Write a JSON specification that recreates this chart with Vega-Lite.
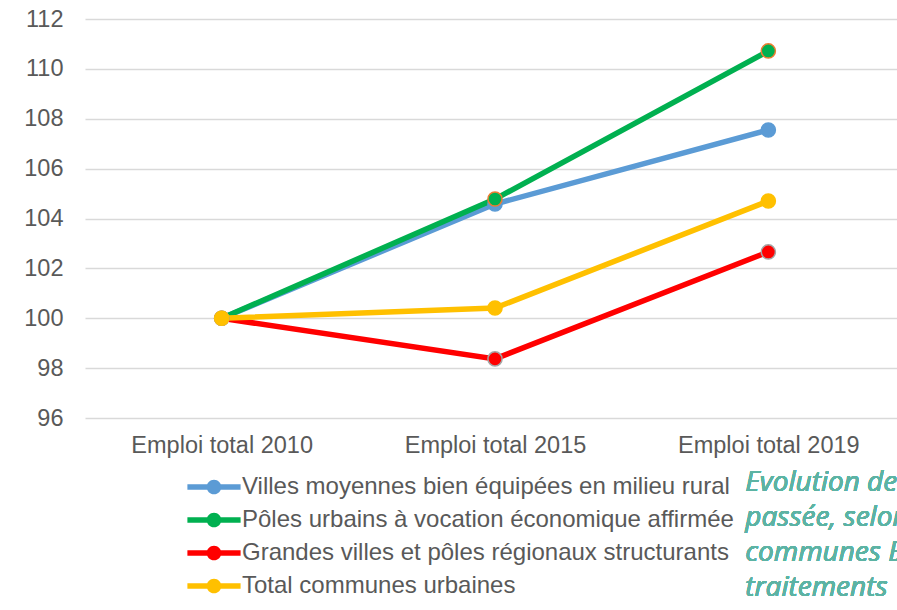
{
  "$schema": "https://vega.github.io/schema/vega-lite/v6.json",
  "width": 820,
  "height": 399,
  "autosize": "none",
  "padding": {"left": 85, "top": 19, "right": 0, "bottom": 192},
  "background": "white",
  "config": {
    "view": {"stroke": null},
    "axis": {"labelFont": "Liberation Sans", "labelFontSize": 23.5, "labelColor": "#595959", "title": null, "ticks": false, "domain": false, "labelLimit": 400}
  },
  "data": {"values": [
    {"series": "Villes moyennes bien équipées en milieu rural", "year": "Emploi total 2010", "value": 100},
    {"series": "Villes moyennes bien équipées en milieu rural", "year": "Emploi total 2015", "value": 104.58},
    {"series": "Villes moyennes bien équipées en milieu rural", "year": "Emploi total 2019", "value": 107.55},
    {"series": "Pôles urbains à vocation économique affirmée", "year": "Emploi total 2010", "value": 100},
    {"series": "Pôles urbains à vocation économique affirmée", "year": "Emploi total 2015", "value": 104.78},
    {"series": "Pôles urbains à vocation économique affirmée", "year": "Emploi total 2019", "value": 110.72},
    {"series": "Grandes villes et pôles régionaux structurants", "year": "Emploi total 2010", "value": 100},
    {"series": "Grandes villes et pôles régionaux structurants", "year": "Emploi total 2015", "value": 98.37},
    {"series": "Grandes villes et pôles régionaux structurants", "year": "Emploi total 2019", "value": 102.66},
    {"series": "Total communes urbaines", "year": "Emploi total 2010", "value": 100},
    {"series": "Total communes urbaines", "year": "Emploi total 2015", "value": 100.41},
    {"series": "Total communes urbaines", "year": "Emploi total 2019", "value": 104.7}
  ]},
  "encoding": {
    "x": {"field": "year", "type": "nominal", "sort": null,
      "scale": {"type": "point", "padding": 0.5},
      "axis": {"labelAngle": 0, "labelPadding": 15, "grid": false, "labelLimit": 400}},
    "y": {"field": "value", "type": "quantitative",
      "scale": {"domain": [96, 112], "nice": false, "zero": false},
      "axis": {"values": [96, 98, 100, 102, 104, 106, 108, 110, 112], "labelPadding": 22, "grid": true, "gridColor": "#D9D9D9", "gridWidth": 1.3}}
  },
  "layer": [
    {
      "mark": {"type": "line", "strokeWidth": 5.5},
      "encoding": {
        "color": {"field": "series", "type": "nominal",
          "scale": {
            "domain": ["Villes moyennes bien équipées en milieu rural", "Pôles urbains à vocation économique affirmée", "Grandes villes et pôles régionaux structurants", "Total communes urbaines"],
            "range": ["#5B9BD5", "#00B050", "#FF0000", "#FFC000"]},
          "legend": {
            "orient": "none", "legendX": 117, "legendY": 456, "padding": 0,
            "title": null,
            "symbolType": "M-3.8,-0.38L-0.9,-0.38L-0.9,0.38L-3.8,0.38Z M0.9,-0.38L3.8,-0.38L3.8,0.38L0.9,0.38Z M1.05,0A1.05,1.05,0,1,1,-1.05,0A1.05,1.05,0,1,1,1.05,0Z",
            "symbolSize": 196, "symbolStrokeWidth": 0,
            "labelFont": "Liberation Sans", "labelFontSize": 24, "labelColor": "#595959",
            "labelOffset": 16, "rowPadding": 9, "labelLimit": 700,
            "encode": {"symbols": {"update": {"fill": {"scale": "color", "field": "value"}, "opacity": {"value": 1}}}}
          }}
      }
    },
    {
      "mark": {"type": "point", "filled": true, "size": 200, "opacity": 1, "strokeWidth": 1.5},
      "encoding": {
        "color": {"field": "series", "type": "nominal"},
        "stroke": {"field": "series", "type": "nominal", "legend": null,
          "scale": {
            "domain": ["Villes moyennes bien équipées en milieu rural", "Pôles urbains à vocation économique affirmée", "Grandes villes et pôles régionaux structurants", "Total communes urbaines"],
            "range": ["#5B9BD5", "#ED7D31", "#A5A5A5", "#FFC000"]}}
      }
    },
    {
      "mark": {"type": "text", "text": ["Evolution de l'emploi", "passée, selon", "communes BPE", "traitements"],
        "font": "Open Sans", "fontStyle": "italic", "fontWeight": "normal", "fontSize": 28, "color": "#5CB3A4",
        "align": "left", "baseline": "top", "lineHeight": 35, "dx": -23, "dy": 51},
      "encoding": {
        "x": {"datum": "Emploi total 2019"},
        "y": {"datum": 96}
      }
    }
  ],
  "resolve": {"scale": {"stroke": "independent"}}
}
